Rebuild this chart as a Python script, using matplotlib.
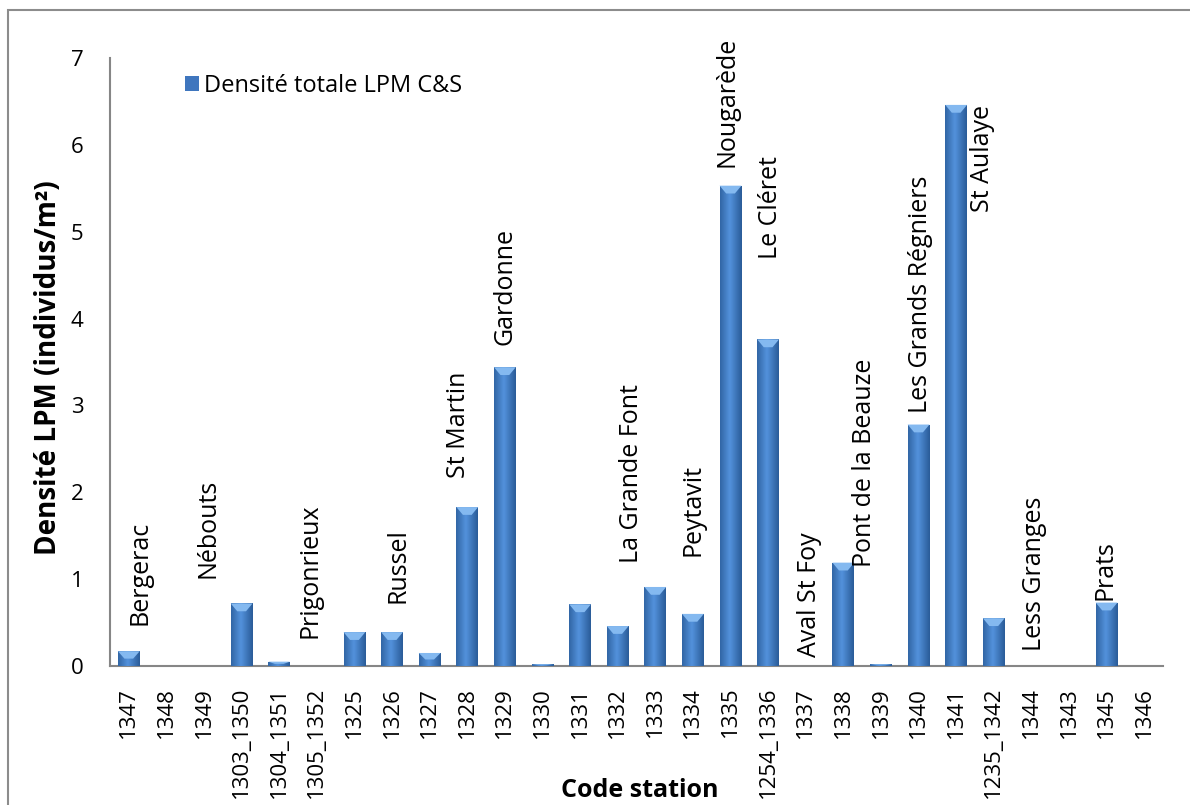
import matplotlib
matplotlib.use("Agg")
import matplotlib.pyplot as plt
import numpy as np
from matplotlib.patches import Polygon, Rectangle
from matplotlib.colors import LinearSegmentedColormap

stations = ["1347", "1348", "1349", "1303_1350", "1304_1351", "1305_1352", "1325",
            "1326", "1327", "1328", "1329", "1330", "1331", "1332", "1333", "1334",
            "1335", "1254_1336", "1337", "1338", "1339", "1340", "1341", "1235_1342",
            "1344", "1343", "1345", "1346"]
densite = [0.17, 0, 0, 0.72, 0.05, 0, 0.39, 0.39, 0.15, 1.83, 3.44, 0.02, 0.71,
           0.46, 0.91, 0.60, 5.53, 3.76, 0, 1.19, 0.02, 2.78, 6.46, 0.55, 0, 0, 0.73, 0]

noms = ["Bergerac", "Nébouts", "Prigonrieux", "Russel", "St Martin", "Gardonne",
        "La Grande Font", "Peytavit", "Nougarède", "Le Cléret", "Aval St Foy",
        "Pont de la Beauze", "Les Grands Régniers", "St Aulaye", "Less Granges", "Prats"]
noms_x = [0.30, 2.11, 4.82, 7.16, 8.76, 10.01, 13.38, 15.01, 15.91, 17.05, 18.09,
          19.55, 21.04, 22.69, 24.07, 25.96]
noms_y = [0.47, 1.01, 0.32, 0.73, 2.16, 3.70, 1.19, 1.27, 5.75, 4.69, 0.10,
          1.14, 2.91, 5.23, 0.17, 0.76]

plt.rcParams['font.family'] = ['Open Sans', 'DejaVu Sans']

fig = plt.figure(figsize=(11.9, 8.05), dpi=100)
# outer chart border
fig.patches.append(Rectangle((8 / 1190, -0.1), 1.2, 1 - 10 / 805 + 0.1,
                             transform=fig.transFigure, fill=False,
                             edgecolor='#8c8c8c', linewidth=1.5, zorder=0))

ax = fig.add_axes([110 / 1190, 1 - 666 / 805, (1163 - 110) / 1190, (666 - 58) / 805])
x = np.arange(len(stations))
bars = ax.bar(x, densite, width=0.58, color='#3f76be', edgecolor='none', zorder=2,
              label='Densité totale LPM C&S')

# gradient + bevel per bar
grad = np.linspace(0, 1, 64)
prof = np.clip(1 - np.abs(grad - 0.45) * 1.6, 0, 1)[None, :]
cmap = LinearSegmentedColormap.from_list('b', ['#24548f', '#5392dc'])
for b in bars:
    h = b.get_height()
    if h <= 0:
        continue
    bx, bw = b.get_x(), b.get_width()
    im = ax.imshow(prof, cmap=cmap, aspect='auto', extent=(bx, bx + bw, 0, h),
                   zorder=3, interpolation='bicubic', vmin=0, vmax=1)
    im.set_clip_path(b)
    d = min(0.09, h * 0.5)
    ax.add_patch(Polygon([(bx, h), (bx + bw, h), (bx + bw - bw * 0.3, h - d),
                          (bx + bw * 0.3, h - d)], closed=True,
                         facecolor='#84b9f0', edgecolor='none', zorder=4))

ax.set_xlim(-0.5, len(stations) - 0.5)
ax.set_ylim(0, 7)
ax.set_yticks(range(0, 8))
ax.set_xticks(x)
ax.set_xticklabels(stations, rotation=90, fontsize=16)
ax.tick_params(axis='y', labelsize=16, length=0, pad=19)
ax.tick_params(axis='x', length=0, pad=15)
for s in ['top', 'right']:
    ax.spines[s].set_visible(False)
for s in ['left', 'bottom']:
    ax.spines[s].set_color('#868686')
    ax.spines[s].set_linewidth(1.5)

for n, nx, ny in zip(noms, noms_x, noms_y):
    ax.text(nx, ny, n, rotation=90, ha='center', va='bottom', fontsize=18, zorder=5)

ax.set_ylabel('Densité LPM (individus/m²)', fontsize=20, fontweight='bold')
ax.yaxis.set_label_coords(-0.058, 0.49)
ax.yaxis.label.set_va('center')
ax.set_xlabel('Code station', fontsize=18, fontweight='bold')
ax.xaxis.set_label_coords(0.503, -0.204)
ax.xaxis.label.set_va('center')

leg = ax.legend(loc='upper left', bbox_to_anchor=(0.062, 0.99), frameon=False,
                fontsize=17, handlelength=0.6, handleheight=0.6, handletextpad=0.2,
                borderaxespad=0)

fig.savefig('out.png', dpi=100)
